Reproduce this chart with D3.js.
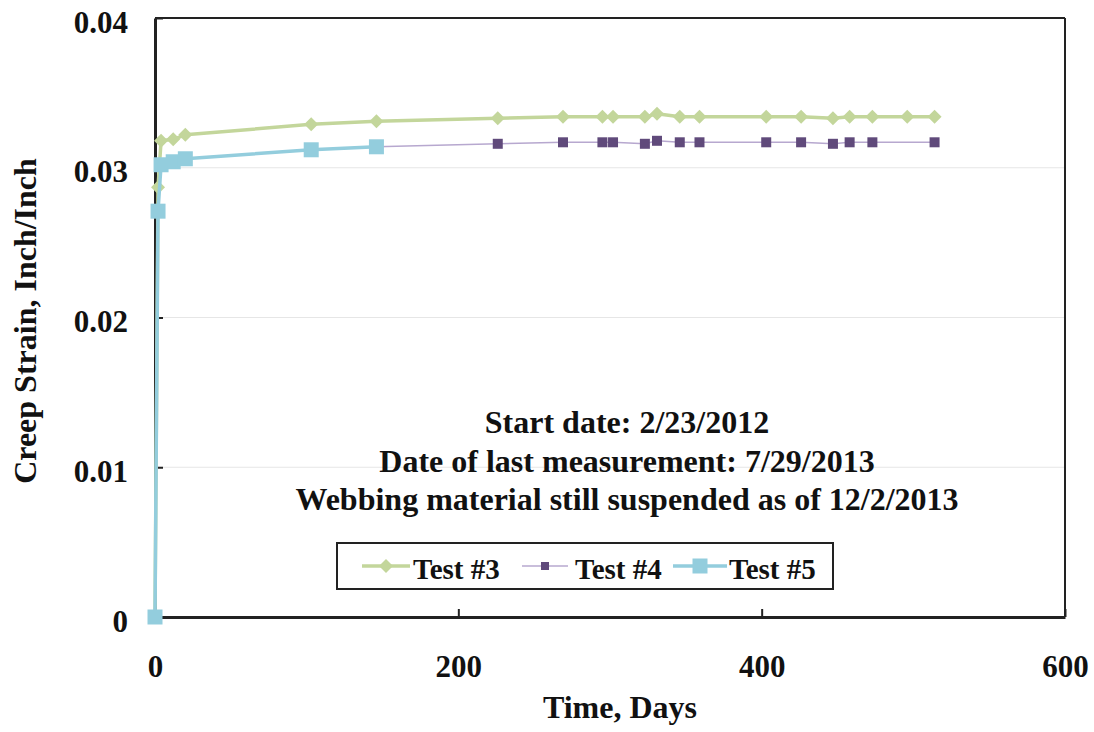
<!DOCTYPE html>
<html>
<head>
<meta charset="utf-8">
<script src="https://cdn.jsdelivr.net/npm/d3@7"></script>
<style>
  html, body { margin: 0; padding: 0; background: #fff; }
  svg { display: block; }
  text { font-family: "Liberation Serif", "Times New Roman", serif; font-weight: bold; fill: #111; }
</style>
</head>
<body>
<svg id="chart" width="1094" height="732"></svg>
<script>
// ---- Data ----
const days3 = [0, 2, 4, 12, 20, 103, 146, 226, 269, 295, 302, 323, 331, 346, 359, 403, 426, 447, 458, 473, 496, 514];
const strain3 = [0, 0.0287, 0.0318, 0.0319, 0.0322, 0.0329, 0.0331, 0.0333, 0.0334, 0.0334, 0.0334, 0.0334, 0.0336, 0.0334, 0.0334, 0.0334, 0.0334, 0.0333, 0.0334, 0.0334, 0.0334, 0.0334];

const days4 = [0, 2, 4, 12, 20, 103, 146, 226, 269, 295, 302, 323, 331, 346, 359, 403, 426, 447, 458, 473, 514];
const strain4 = [0, 0.0271, 0.0302, 0.0304, 0.0306, 0.0312, 0.0314, 0.0316, 0.0317, 0.0317, 0.0317, 0.0316, 0.0318, 0.0317, 0.0317, 0.0317, 0.0317, 0.0316, 0.0317, 0.0317, 0.0317];

const days5 = [0, 2, 4, 12, 20, 103, 146];
const strain5 = [0, 0.0271, 0.0302, 0.0304, 0.0306, 0.0312, 0.0314];

const seriesNames = ["Test #3", "Test #4", "Test #5"];
const xTicks = [0, 200, 400, 600];
const yTicks = [0, 0.01, 0.02, 0.03, 0.04];
const yTickLabels = ["0", "0.01", "0.02", "0.03", "0.04"];
const xTitle = "Time, Days";
const yTitle = "Creep Strain, Inch/Inch";
const notes = ["Start date: 2/23/2012", "Date of last measurement: 7/29/2013", "Webbing material still suspended as of 12/2/2013"];

// ---- Layout ----
const svg = d3.select("#chart");
const L = 155, R = 1065, T = 18, B = 617;
const x = d3.scaleLinear().domain([0, 600]).range([L, R]);
const y = d3.scaleLinear().domain([0, 0.04]).range([B, T]);

// gridlines
svg.append("g").selectAll("line").data(yTicks.filter(v => v > 0 && v < 0.04)).join("line")
  .attr("x1", L).attr("x2", R).attr("y1", d => y(d)).attr("y2", d => y(d))
  .attr("stroke", "#e6e6e6").attr("stroke-width", 1);

// frame top/right
svg.append("line").attr("x1", L).attr("x2", R).attr("y1", T).attr("y2", T).attr("stroke", "#222").attr("stroke-width", 2);
svg.append("line").attr("x1", R).attr("x2", R).attr("y1", T).attr("y2", B).attr("stroke", "#222").attr("stroke-width", 2);

// axes
const xAxis = svg.append("g").attr("transform", `translate(0,${B})`)
  .call(d3.axisBottom(x).tickValues(xTicks).tickSizeInner(-8).tickSizeOuter(0).tickFormat(d3.format("d")));
xAxis.select(".domain").attr("stroke", "#222").attr("stroke-width", 3);
xAxis.selectAll(".tick line").attr("stroke", "#222").attr("stroke-width", 2);
xAxis.selectAll(".tick text").attr("y", 60).attr("dy", 0).style("font-size", "31px")
  .style("font-family", "'Liberation Serif', serif").style("font-weight", "bold").attr("fill", "#111");

const yAxis = svg.append("g").attr("transform", `translate(${L},0)`)
  .call(d3.axisLeft(y).tickValues(yTicks).tickSizeInner(-8).tickSizeOuter(0).tickFormat((d, i) => yTickLabels[i]));
yAxis.select(".domain").attr("stroke", "#222").attr("stroke-width", 3);
yAxis.selectAll(".tick line").attr("stroke", "#222").attr("stroke-width", 2);
yAxis.selectAll(".tick text").attr("x", -27).attr("dy", 14).style("font-size", "31px")
  .style("font-family", "'Liberation Serif', serif").style("font-weight", "bold").attr("fill", "#111");

// axis titles
svg.append("text").attr("x", 620).attr("y", 718).attr("text-anchor", "middle").style("font-size", "32px").text(xTitle);
svg.append("text").attr("transform", "translate(36,321) rotate(-90)").attr("text-anchor", "middle").style("font-size", "32px").text(yTitle);

// series
const series = [
  { name: seriesNames[0], days: days3, vals: strain3, line: "#c3d69b", marker: "#c3d69b", lw: 3.5, shape: "diamond", size: 14 },
  { name: seriesNames[1], days: days4, vals: strain4, line: "#b7a8cf", marker: "#604a7b", lw: 1.6, shape: "square", size: 10 },
  { name: seriesNames[2], days: days5, vals: strain5, line: "#93cddd", marker: "#93cddd", lw: 3.5, shape: "square", size: 15 }
];

function markerPath(shape, s) {
  const h = s / 2;
  if (shape === "diamond") return `M0,${-h}L${h},0L0,${h}L${-h},0Z`;
  return `M${-h},${-h}H${h}V${h}H${-h}Z`;
}

const lineGen = d3.line().x(d => x(d[0])).y(d => y(d[1]));
series.forEach(s => {
  const pts = s.days.map((d, i) => [d, s.vals[i]]);
  const g = svg.append("g");
  g.append("path").datum(pts).attr("d", lineGen).attr("fill", "none")
    .attr("stroke", s.line).attr("stroke-width", s.lw).attr("stroke-linejoin", "round");
  g.selectAll("path.m").data(pts).join("path").attr("class", "m")
    .attr("transform", d => `translate(${x(d[0])},${y(d[1])})`)
    .attr("d", markerPath(s.shape, s.size)).attr("fill", s.marker);
});

// annotation
notes.forEach((t, i) => {
  svg.append("text").attr("x", 627).attr("y", 433 + i * 38.5).attr("text-anchor", "middle")
    .style("font-size", "32px").text(t);
});

// legend
const lg = svg.append("g");
lg.append("rect").attr("x", 337).attr("y", 543).attr("width", 496).attr("height", 46)
  .attr("fill", "#fff").attr("stroke", "#222").attr("stroke-width", 2);
const legendItems = [
  { x1: 362, x2: 410, tx: 413 },
  { x1: 522, x2: 568, tx: 575 },
  { x1: 673, x2: 727, tx: 729 }
];
series.forEach((s, i) => {
  const it = legendItems[i];
  const cy = 566;
  lg.append("line").attr("x1", it.x1).attr("x2", it.x2).attr("y1", cy).attr("y2", cy)
    .attr("stroke", s.line).attr("stroke-width", s.lw);
  lg.append("path").attr("transform", `translate(${(it.x1 + it.x2) / 2},${cy})`)
    .attr("d", markerPath(s.shape, i === 1 ? 8 : s.size)).attr("fill", s.marker);
  lg.append("text").attr("x", it.tx).attr("y", 579).style("font-size", "29px").text(s.name);
});
</script>
</body>
</html>
